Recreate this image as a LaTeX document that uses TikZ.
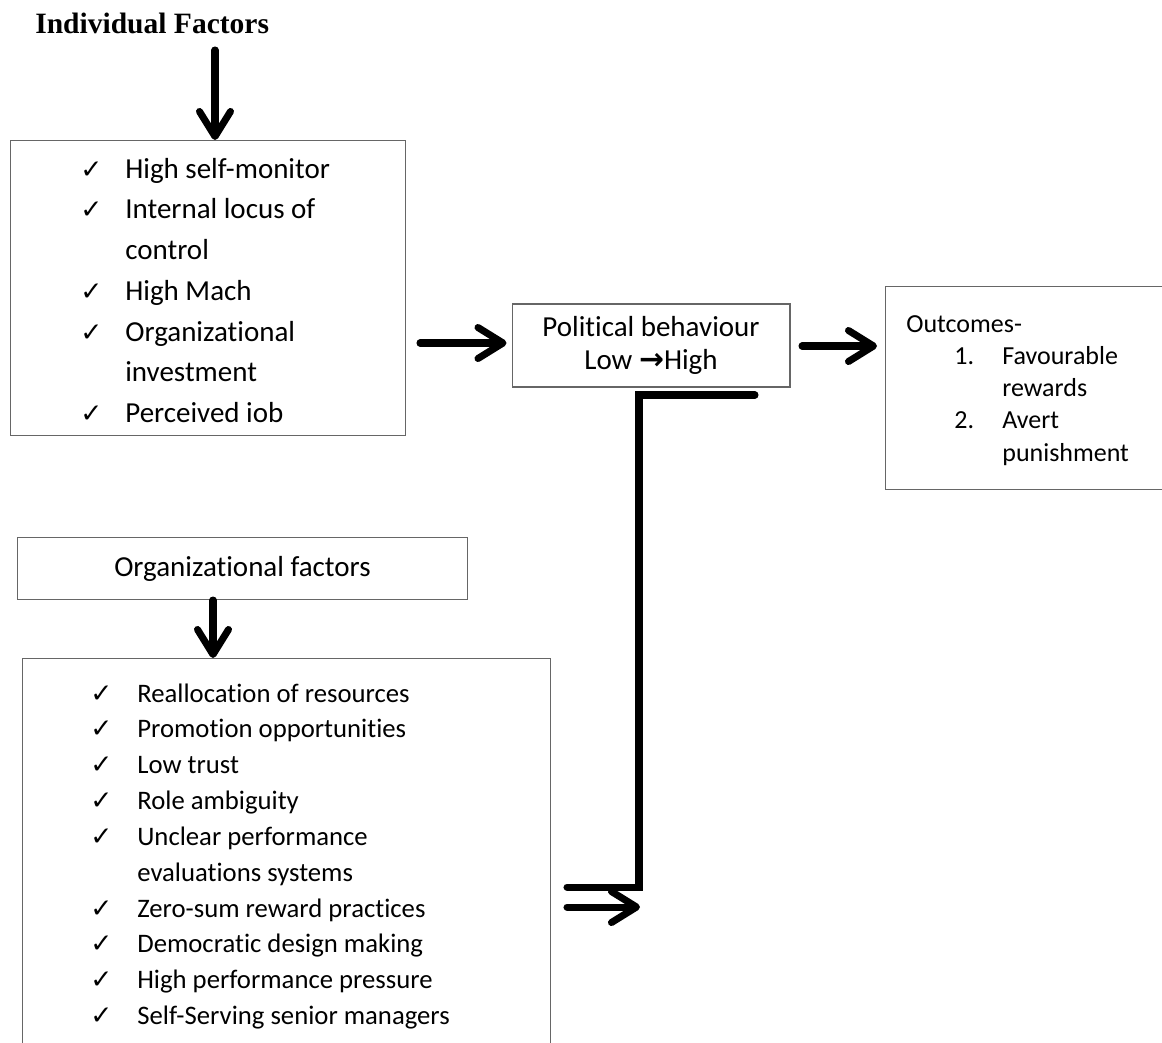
\documentclass[tikz,border=0pt]{standalone}
\usepackage{fontspec}
\setmainfont{Carlito}[Ligatures=CommonOff]
\newfontfamily\dvfont{DejaVu Sans}
\newfontfamily\ttlfont{Liberation Serif}
\usepackage{tikz}
\usetikzlibrary{arrows.meta,positioning,calc}

\newcommand{\ck}{{\dvfont\bfseries\fontsize{15}{15}\selectfont ✓}}

\begin{document}
\begin{tikzpicture}[x=0.02cm,y=-0.02cm,
  box/.style={draw=black!60,line width=0.6pt,inner sep=0pt},
  listtext/.style={anchor=base west,inner sep=0pt,align=left},
  bigline/.style={line width=4pt,line cap=round,line join=miter},
  bigarrow/.style={bigline,-{Straight Barb[length=5mm,width=6.2mm,round]}}]
\useasboundingbox (0,0) rectangle (1162,1042);

% individual side
\node[anchor=base west,inner sep=0pt,font=\ttlfont\bfseries\fontsize{16.8}{20}\selectfont] (title) at (35,33) {Individual Factors};
\node[box,anchor=north west,minimum width=7.9cm,minimum height=5.9cm] (indiv) at (10,140) {};
\node[listtext,font=\fontsize{16.5}{23.2}\selectfont] (indivlist) at (80,178) {%
  \begin{tabular}[t]{@{}p{0.9cm}@{}l@{}}
  \ck & High self-monitor\\
  \ck & Internal locus of\\
      & control\\
  \ck & High Mach\\
  \ck & Organizational\\
      & investment\\
  \ck & Perceived iob
  \end{tabular}};

% middle and outcomes
\node[box,minimum width=5.56cm,minimum height=1.66cm,align=center,font=\fontsize{16.5}{18.7}\selectfont] (polit) at (651,345.5) {Political behaviour\\Low {\dvfont\bfseries\fontsize{17}{17}\selectfont →}High};
\node[box,anchor=north west,minimum width=6cm,minimum height=4.06cm] (outc) at (885,286) {};
\node[listtext,font=\fontsize{14.8}{18.4}\selectfont] (outclist) at (906,332) {%
  \begin{tabular}[t]{@{}p{0.96cm}@{}p{0.96cm}@{}l@{}}
  \multicolumn{3}{@{}l@{}}{Outcomes-}\\
  & 1. & Favourable\\
  &    & rewards\\
  & 2. & Avert\\
  &    & punishment
  \end{tabular}};

% organizational side
\node[box,anchor=north west,minimum width=9cm,minimum height=1.24cm,font=\fontsize{16.5}{20}\selectfont] (org) at (17,537) {Organizational factors};
\node[box,anchor=north west,minimum width=10.56cm,minimum height=8cm] (orgbox) at (22,658) {};
\node[listtext,font=\fontsize{15.2}{20.4}\selectfont] (orglist) at (90,702) {%
  \begin{tabular}[t]{@{}p{0.94cm}@{}l@{}}
  \ck & Reallocation of resources\\
  \ck & Promotion opportunities\\
  \ck & Low trust\\
  \ck & Role ambiguity\\
  \ck & Unclear performance\\
      & evaluations systems\\
  \ck & Zero-sum reward practices\\
  \ck & Democratic design making\\
  \ck & High performance pressure\\
  \ck & Self-Serving senior managers
  \end{tabular}};

% arrows
\coordinate (a1) at (215,50);
\coordinate (a2) at (420,343);
\coordinate (a3) at (802,346);
\coordinate (a4) at (213,0);
\coordinate (a5) at (567,907);
\coordinate (a5end) at (640,907);
\coordinate (c1) at (755,395);
\coordinate (c2) at (567,887);
\coordinate (cx) at (639,0);
\draw[bigarrow] (a1) -- (a1 |- indiv.north);
\draw[bigarrow,shorten >=0.1cm] (a2) -- (a2 -| polit.west);
\draw[bigarrow,shorten >=0.16cm] (a3) -- (a3 -| outc.west);
\draw[bigarrow] (a4 |- org.south) -- (a4 |- orgbox.north);
\draw[bigline] (c1) -- (c1 -| cx) -- (cx |- c2) -- (c2);
\draw[bigarrow] (a5) -- (a5end);
\end{tikzpicture}
\end{document}
